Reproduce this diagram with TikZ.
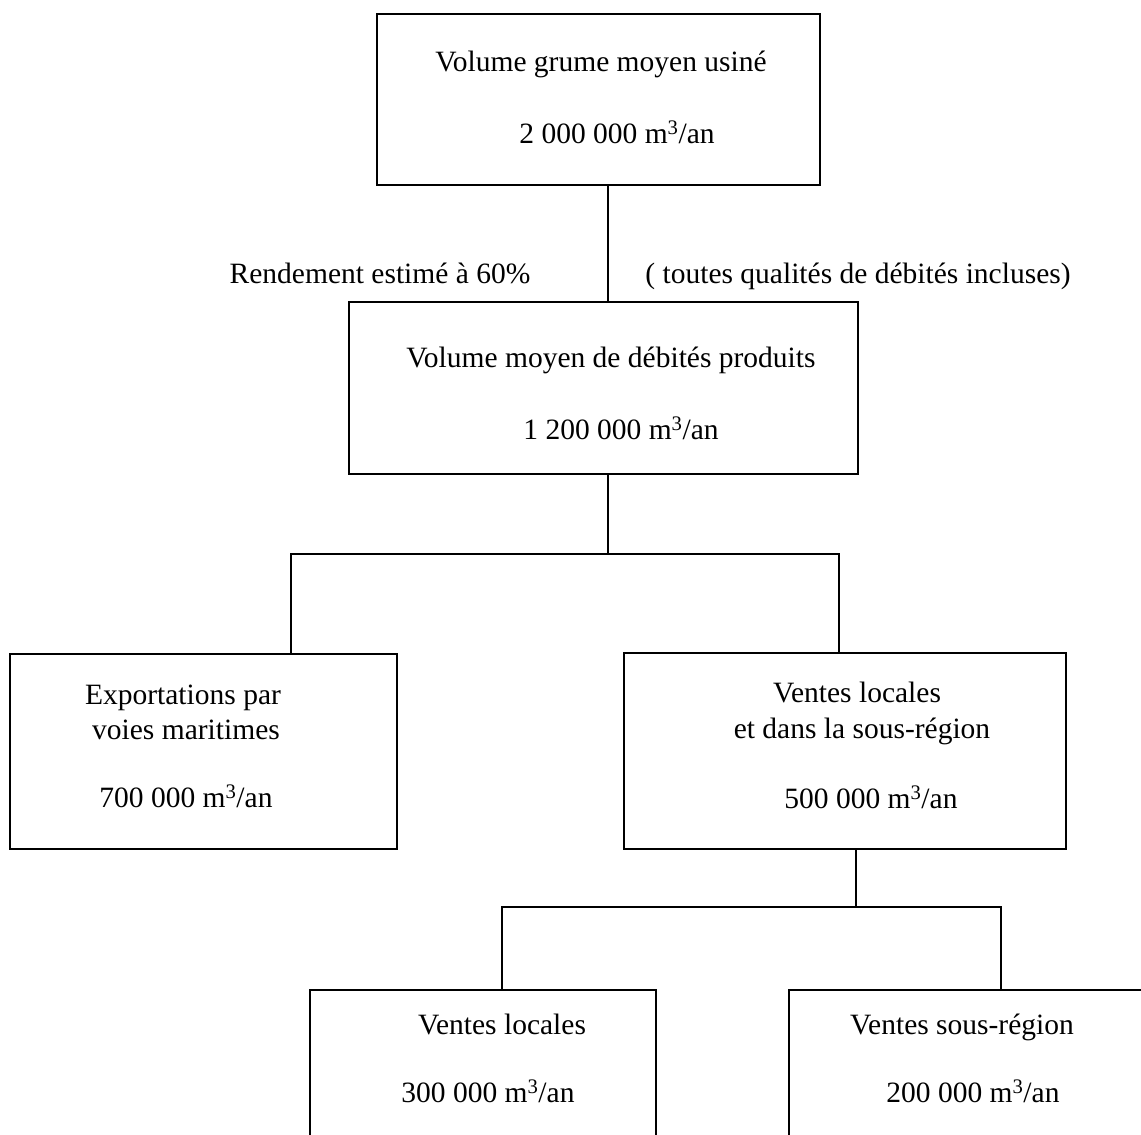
\documentclass[tikz,border=0pt]{standalone}
\usepackage{fontspec}
\setmainfont{Liberation Serif}
\begin{document}
\begin{tikzpicture}[x=1pt,y=-1pt,
  box/.style={draw, line width=2.2pt, rectangle, inner sep=0pt},
  lbl/.style={inner sep=0pt, font=\fontsize{29.5}{35}\selectfont, text height=0.7em, text depth=0.22em, anchor=center},
  conn/.style={line width=2pt}]
\useasboundingbox (0,0) rectangle (1141,1135);
\clip (0,0) rectangle (1141,1135);
% boxes
\node[box, minimum width=443pt, minimum height=171pt] (b1) at (598.5,99.5) {};
\node[box, minimum width=509pt, minimum height=172pt] (b2) at (603.5,388) {};
\node[box, minimum width=387pt, minimum height=195pt] (b3) at (203.5,751.5) {};
\node[box, minimum width=442pt, minimum height=196pt] (b4) at (845,751) {};
\node[box, minimum width=346pt, minimum height=180pt] (b5) at (483,1080) {};
\node[box, minimum width=391pt, minimum height=180pt] (b6) at (984.5,1080) {};
% texts
\node[lbl] (t1a) at (601,69) {Volume grume moyen usiné};
\node[lbl] (t1b) at (617,141) {2 000 000 m\textsuperscript{3}/an};
\node[lbl] (lblL) at (380,281) {Rendement estimé à 60\%};
\node[lbl] (lblR) at (858,281) {( toutes qualités de débités incluses)};
\node[lbl] (t2a) at (611,365) {Volume moyen de débités produits};
\node[lbl] (t2b) at (621,437) {1 200 000 m\textsuperscript{3}/an};
\node[lbl] (t3a) at (183,702) {Exportations par};
\node[lbl] (t3b) at (186,737) {voies maritimes};
\node[lbl] (t3c) at (186,805) {700 000 m\textsuperscript{3}/an};
\node[lbl] (t4a) at (857,700) {Ventes locales};
\node[lbl] (t4b) at (862,736) {et dans la sous-région};
\node[lbl] (t4c) at (871,806) {500 000 m\textsuperscript{3}/an};
\node[lbl] (t5a) at (502,1032) {Ventes locales};
\node[lbl] (t5b) at (488,1100) {300 000 m\textsuperscript{3}/an};
\node[lbl] (t6a) at (962,1032) {Ventes sous-région};
\node[lbl] (t6b) at (973,1100) {200 000 m\textsuperscript{3}/an};
% junctions
\coordinate (s0) at (608,554);
\coordinate (j1) at (291,554);
\coordinate (j2) at (839,554);
\coordinate (k0) at (856,907);
\coordinate (k1) at (502,907);
\coordinate (k2) at (1001,907);
% connectors
\draw[conn] (b1.south -| s0) -- (b2.north -| s0);
\draw[conn] (b2.south -| s0) -- (s0);
\draw[conn] (b3.north -| j1) -- (j1) -- (j2) -- (b4.north -| j2);
\draw[conn] (b4.south -| k0) -- (k0);
\draw[conn] (b5.north -| k1) -- (k1) -- (k2) -- (b6.north -| k2);
\end{tikzpicture}
\end{document}
